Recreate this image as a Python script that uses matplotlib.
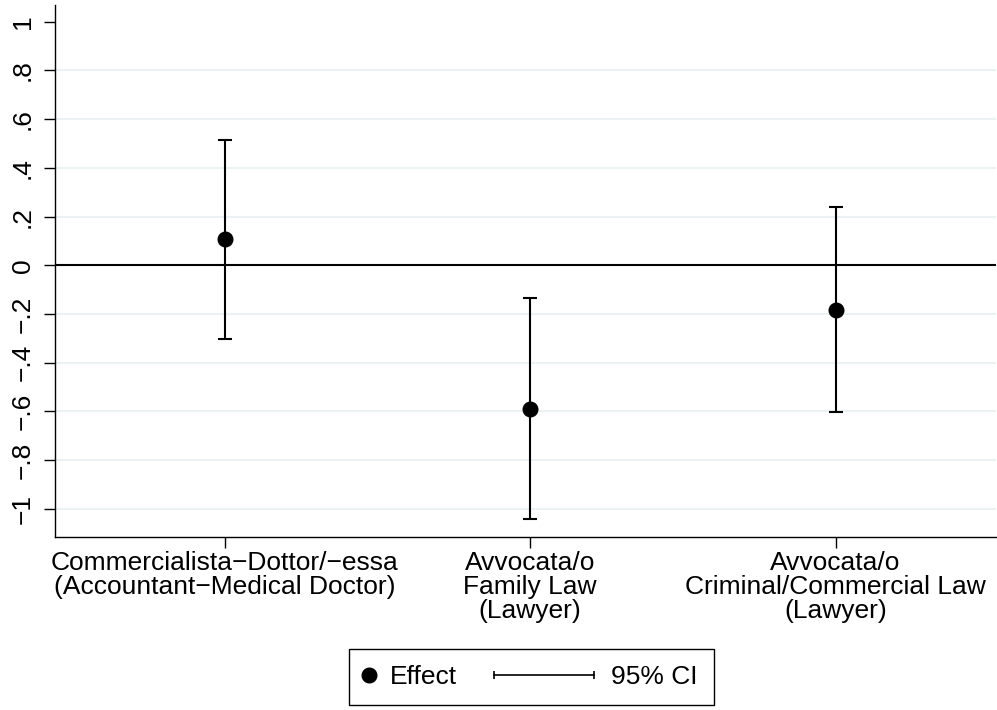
import numpy as np
import matplotlib.pyplot as plt
from matplotlib.lines import Line2D
from matplotlib.legend_handler import HandlerBase
from matplotlib.container import ErrorbarContainer

plt.rcParams['font.family'] = ['Liberation Sans', 'DejaVu Sans']

##### données
categories = ["Commercialista\u2212Dottor/\u2212essa\n(Accountant\u2212Medical Doctor)",
              "Avvocata/o\nFamily Law\n(Lawyer)",
              "Avvocata/o\nCriminal/Commercial Law\n(Lawyer)"]
effect = np.array([0.107, -0.589, -0.184])
ci_low = np.array([-0.304, -1.043, -0.602])
ci_high = np.array([0.513, -0.136, 0.238])

ytick_vals = [-1, -0.8, -0.6, -0.4, -0.2, 0, 0.2, 0.4, 0.6, 0.8, 1]
ytick_labels = ["\u22121", "\u2212.8", "\u2212.6", "\u2212.4", "\u2212.2", "0",
                ".2", ".4", ".6", ".8", "1"]

x = np.arange(1, len(categories) + 1)
fs = 19
gridc = '#eaf2f3'


##### clé de légende : segment horizontal avec deux petites barres
class CIHandler(HandlerBase):
    def create_artists(self, legend, orig_handle, xdescent, ydescent,
                       width, height, fontsize, trans):
        y = height / 2 - ydescent
        x1 = width - xdescent
        x0 = x1 - 72
        line = Line2D([x0, x1], [y, y], color='black', lw=1.2, transform=trans)
        caps = Line2D([x0, x1], [y, y], ls='none', marker='|', ms=6, mew=1.2,
                      color='black', transform=trans)
        return [line, caps]


fig = plt.figure(figsize=(9.97, 7.10), dpi=100)
ax = fig.add_axes([0.0547, 0.243, 0.9443, 0.750])

# grille (pas de ligne à 0 ni à 1)
for v in ytick_vals:
    if v not in (0, 1):
        ax.axhline(v, color=gridc, lw=1.5, zorder=0)
ax.axhline(0, color='black', lw=1.5, zorder=1)

eb = ax.errorbar(x, effect, yerr=[effect - ci_low, ci_high - effect], fmt='none',
                 ecolor='black', elinewidth=1.5, capsize=5.2, capthick=1.5, zorder=2)
pts, = ax.plot(x, effect, 'o', color='black', ms=10.5, zorder=3)

ax.set_xlim(0.443, 3.525)
ax.set_ylim(-1.118, 1.069)

ax.spines['top'].set_visible(False)
ax.spines['right'].set_visible(False)
for s in ('left', 'bottom'):
    ax.spines[s].set_linewidth(1.0)

ax.set_xticks(x, categories)
ax.set_yticks(ytick_vals, ytick_labels, rotation=90, va='center')
ax.tick_params(axis='x', length=8, width=1, pad=2, labelsize=fs)
ax.tick_params(axis='y', length=8, width=1, pad=6, labelsize=fs)
for lab in ax.get_xticklabels():
    lab.set_linespacing(1.0)

leg = fig.legend([pts, eb], ['Effect', '95% CI'], loc='center',
                 bbox_to_anchor=(0.533, 0.0465), ncol=2, frameon=True,
                 fancybox=False, edgecolor='black', framealpha=1, fontsize=fs,
                 numpoints=1, handlelength=0.3, handletextpad=0.644,
                 columnspacing=4.9, borderpad=0.6,
                 handler_map={ErrorbarContainer: CIHandler()})
leg.get_frame().set_linewidth(1.0)

fig.savefig('out.png', dpi=100)
